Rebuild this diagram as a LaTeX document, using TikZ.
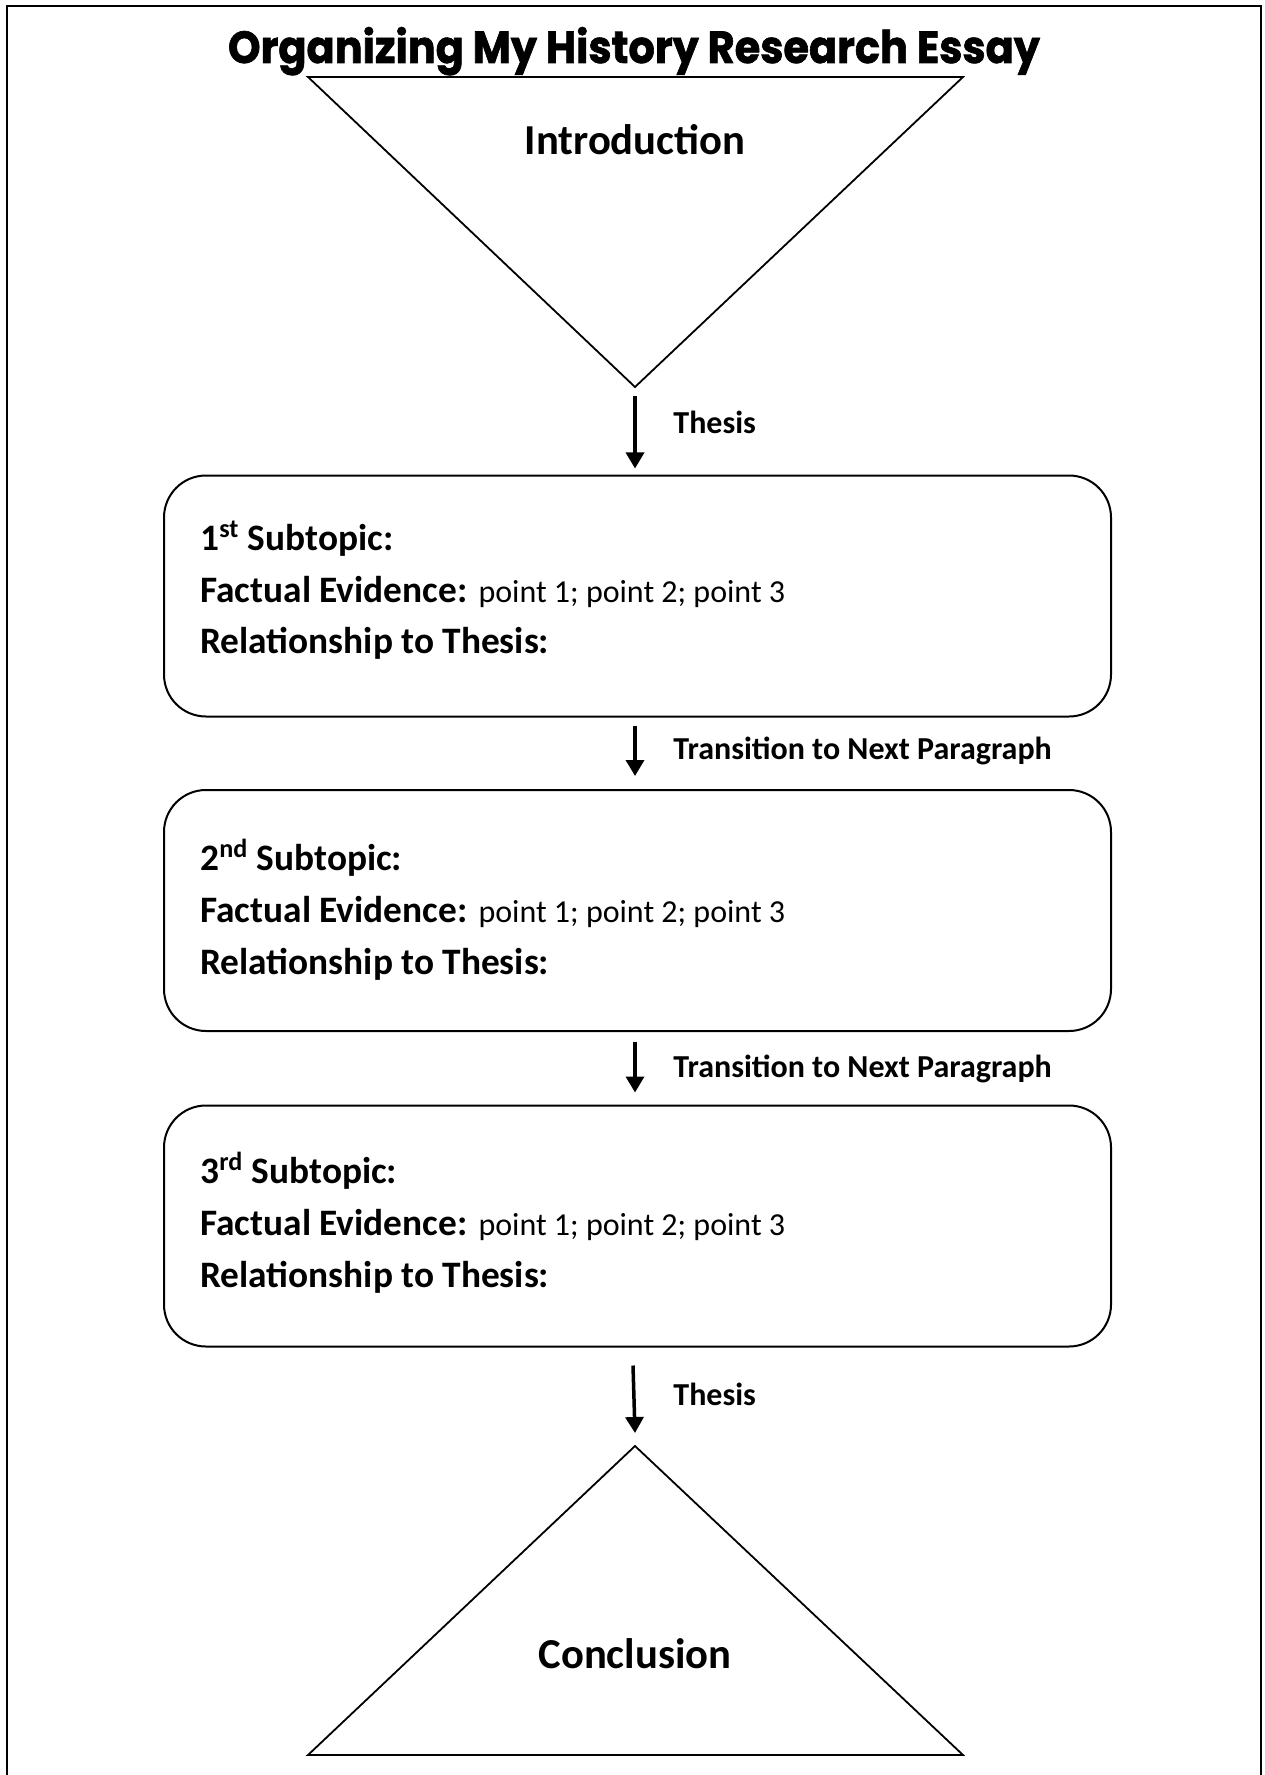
\documentclass[tikz,border=0pt]{standalone}
\usepackage{fontspec}
\setmainfont{Carlito}
\newfontfamily\titlefont{Poppins}[BoldFeatures={FakeBold=1.5}]
\usetikzlibrary{arrows.meta,calc}
\newcommand{\pts}{\fontsize{16pt}{19pt}\selectfont}
\begin{document}
\begin{tikzpicture}[x=0.5pt,y=-0.5pt,
  edge/.style={line width=0.9pt,line join=miter},
  box/.style={draw,line width=1pt,rounded corners=21pt,minimum width=473.5pt,minimum height=120.5pt,inner sep=0pt,outer sep=0pt},
  arr/.style={line width=1.75pt,-{Triangle[width=9pt,length=8pt]}},
  body/.style={anchor=base west,inner sep=0pt,font=\fontsize{18.67pt}{22pt}\selectfont},
  lab/.style={anchor=base west,inner sep=0pt,font=\bfseries\fontsize{16pt}{19pt}\selectfont},
  big/.style={anchor=base,inner sep=0pt,font=\bfseries\fontsize{21.33pt}{25pt}\selectfont}]
\useasboundingbox (0,0) rectangle (1264,1775);
\draw[line width=1pt] (7,1775) -- (7,6) -- (1261,6) -- (1261,1775);
% title
\node[anchor=base,inner sep=0pt] (title) at (634,63)
  {\resizebox{406pt}{18pt}{\titlefont\bfseries Organizing My History Research Essay}};
% introduction
\coordinate (itl) at (308,77);
\coordinate (itr) at (963,77);
\coordinate (ia) at (635,387);
\draw[edge] (itl) -- (itr) -- (ia) -- cycle;
\node[big] (intro) at (635,155) {Introduction};
% boxes
\node[box] (b1) at (637.5,596) {};
\node[box] (b2) at (637.5,910.5) {};
\node[box] (b3) at (637.5,1226) {};
\node[body] (b1a) at (200,550) {\textbf{1\textsuperscript{st} Subtopic:}};
\node[body] (b1b) at (200,602) {\textbf{Factual Evidence:} \pts point 1; point 2; point 3};
\node[body] (b1c) at (200,653) {\textbf{Relationship to Thesis:}};
\node[body] (b2a) at (200,870) {\textbf{2\textsuperscript{nd} Subtopic:}};
\node[body] (b2b) at (200,922) {\textbf{Factual Evidence:} \pts point 1; point 2; point 3};
\node[body] (b2c) at (200,974) {\textbf{Relationship to Thesis:}};
\node[body] (b3a) at (200,1183) {\textbf{3\textsuperscript{rd} Subtopic:}};
\node[body] (b3b) at (200,1235) {\textbf{Factual Evidence:} \pts point 1; point 2; point 3};
\node[body] (b3c) at (200,1287) {\textbf{Relationship to Thesis:}};
% conclusion
\coordinate (ca) at (635,1446);
\coordinate (cbl) at (308,1755);
\coordinate (cbr) at (963,1755);
\draw[edge] (ca) -- (cbr) -- (cbl) -- cycle;
\node[big] (concl) at (635,1668) {Conclusion};
% arrows
\draw[arr] ($(ia)+(0,9)$) -- ($(ia |- b1.north)+(0,-7)$);
\draw[arr] ($(ia |- b1.south)+(0,9)$) -- ($(ia |- b2.north)+(0,-14)$);
\draw[arr] ($(ia |- b2.south)+(0,11)$) -- ($(ia |- b3.north)+(0,-13)$);
\draw[arr] ($(ia |- b3.south)+(-2,19)$) -- ($(ca)+(0,-13)$);
% labels
\node[lab] (l1) at (673,434) {Thesis};
\node[lab] (l2) at (673,759) {Transition to Next Paragraph};
\node[lab] (l3) at (673,1077) {Transition to Next Paragraph};
\node[lab] (l4) at (673,1405) {Thesis};
\end{tikzpicture}
\end{document}
